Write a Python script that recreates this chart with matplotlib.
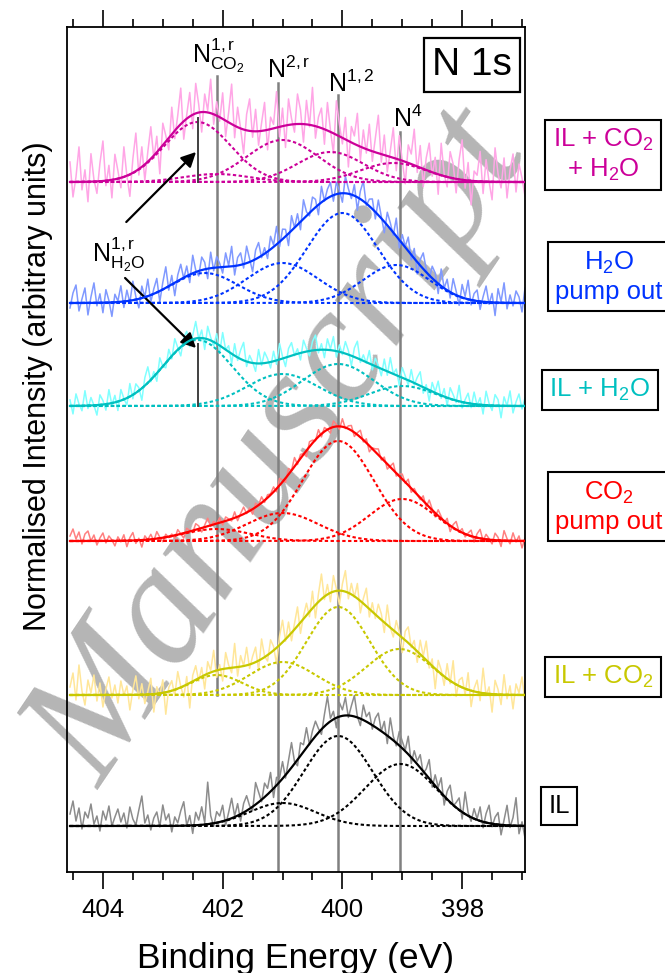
import numpy as np
import matplotlib
matplotlib.use("Agg")
import matplotlib.pyplot as plt

plt.rcParams['font.family'] = ['Liberation Sans', 'DejaVu Sans']
plt.rcParams['mathtext.fontset'] = 'custom'
plt.rcParams['mathtext.rm'] = 'Liberation Sans'
plt.rcParams['mathtext.it'] = 'Liberation Sans:italic'
plt.rcParams['mathtext.default'] = 'regular'

# ---------------- data ----------------
x_start, x_stop, n_raw = 404.55, 396.95, 153

labels = ["IL + CO$_2$\n+ H$_2$O", "H$_2$O\npump out", "IL + H$_2$O",
          "CO$_2$\npump out", "IL + CO$_2$", "IL"]
offsets = [690, 569, 466, 331, 177, 46]
fit_colors = ["#cc0099", "#0033ff", "#00c0c0", "#ff0000", "#c8c800", "#000000"]
raw_colors = ["#ffa6e6", "#8099ff", "#80ffff", "#ff8080", "#ffe699", "#8c8c8c"]

# components: centre (eV), height, FWHM (eV)
mag_centers = [402.1, 402.42, 401.0, 400.2, 399.15]
mag_heights = [8, 60, 42, 30, 19]
mag_fwhm = [1.3, 1.3, 1.4, 1.3, 1.3]

blu_centers = [402.3, 401.0, 400.0, 399.1]
blu_heights = [30, 40, 90, 38]
blu_fwhm = [1.3, 1.4, 1.4, 1.3]

cya_centers = [402.42, 401.0, 400.07, 399.0]
cya_heights = [66, 32, 42, 20]
cya_fwhm = [1.35, 1.4, 1.4, 1.3]

red_centers = [402.1, 401.0, 400.07, 399.0]
red_heights = [12, 28, 100, 42]
red_fwhm = [1.3, 1.4, 1.4, 1.3]

yel_centers = [402.1, 401.0, 400.07, 399.05]
yel_heights = [20, 33, 88, 46]
yel_fwhm = [1.0, 1.3, 1.25, 1.3]

blk_centers = [401.0, 400.07, 399.03]
blk_heights = [23, 90, 62]
blk_fwhm = [1.3, 1.35, 1.4]

# residual noise of the raw traces (read approx. from picture)
noise_mag = [20, -15, 5, 35, -8, 12, -20, 28, 2, -12, 18, 40, -5, 15, -18, 25, 8,
             -10, 30, 0, -22, 14, 38, -6, 20, -16, 10, 32, -3, 16, -25, 22, 6, -12,
             27, -8, 12, 36, -18, 4, 24, -14, 30, 8, -20, 18, 2, 34, -10, 14, -4,
             26, -16, 10, 40, -12, 20, 0, -24, 16, 32, -6, 22, -14, 8, 28, -20, 12,
             4, 36, -10, 18, -22, 26, 6, -8, 30, 14, -18, 24, -2, 38, -12, 10, 20,
             -15, 28, 2, -20, 34, 12, -6, 22, -26, 16, 8, 32, -14, 18, -4, 26, -10,
             14, 38, -8, 20, -16, 6, 30, -12, 24, 0, -22, 18, 10, 36, -6, 22, -18,
             12, 28, -4, 16, -20, 32, 2, -10, 26, 14, -14, 20, 40, -8, 18, -24, 10,
             6, 30, -12, 22, 0, -18, 34, 8, -6, 24, -16, 12, 28, -10, 18, 4, -14]
noise_blu = [-5, 10, 18, -8, 4, 15, -12, 6, 20, -3, 9, -10, 13, 2, -14, 8, 1,
             16, -6, 11, -2, 19, 3, -9, 12, 0, 17, -7, 5, 14, -11, 7, 21, -4,
             9, -13, 6, 15, -1, 10, -8, 18, 2, -5, 13, 7, -10, 16, -3, 11, 4,
             -6, 14, 1, 20, -9, 8, 12, -4, 17, 3, -11, 9, 15, -2, 6, -7, 13,
             2, 18, -5, 10, 7, -12, 15, 0, 11, -8, 19, 4, -3, 13, 8, -10, 16,
             -1, 9, 14, -6, 12, 3, -9, 17, 5, -4, 11, -13, 8, 20, -2, 7, 10,
             -7, 15, 2, -11, 13, 6, -3, 18, -8, 9, 1, 14, -5, 10, -12, 6, 16,
             3, -4, 12, 8, -10, 17, 0, 11, -6, 15, 4, -9, 13, 2, 19, -5, 7,
             11, -8, 5, 16, -2, 9, -13, 14, 1, 20, -6, 8, -3, 12, 6, -9, 15]
noise_cya = [6, -8, 12, 2, -5, 15, -3, 8, 0, -10, 10, 4, -6, 14, -2, 7, -9,
             11, 1, -7, 13, -4, 9, 3, -12, 8, 16, -2, 5, -8, 12, 0, -5, 10,
             -3, 14, 2, -9, 7, 11, -6, 4, 17, -1, 8, -11, 13, 3, -4, 10, -7,
             15, 0, 6, -10, 12, -3, 9, 18, -5, 7, 1, -8, 14, -2, 11, 4, -6,
             10, -4, 16, 2, -9, 8, 13, -1, 5, -7, 12, 3, -5, 9, 15, -3, 6,
             -8, 11, 1, 14, -6, 7, -2, 12, 4, -10, 9, 17, -3, 6, -1, 13, -5,
             8, 2, -7, 11, -4, 15, 0, 6, -9, 10, 3, -5, 12, -2, 7, 14, -6,
             4, -11, 9, 1, 13, -3, 8, -8, 11, 5, -2, 16, -6, 3, 10, -4, 12,
             -1, 7, -9, 14, 2, -5, 11, 6, -12, 9, 0, 15, -7, 4, 12, -3, 8]
noise_red = [5, 12, 2, 9, -3, 7, 10, 0, 6, -4, 3, 8, -2, 5, 1, -5, 4,
             -1, 6, -6, 3, 8, -3, 2, -7, 4, 0, 5, -2, 7, 1, -4, 3, -1,
             2, -3, 5, 0, -5, 4, 1, -2, 6, 3, -4, 2, 8, -1, 3, 0, 5,
             -3, 4, 1, -2, 6, -4, 2, 7, -1, 3, -5, 4, 0, 6, -2, 3, 1,
             5, -3, 7, 2, -4, 6, 0, 9, -2, 4, 1, -6, 5, 3, -1, 7, -3,
             4, 0, -5, 6, 2, -3, 8, -1, 3, 5, -4, 2, 7, -2, 4, -6, 1,
             3, 6, -2, 4, -5, 1, 7, -3, 2, 5, -1, 6, -4, 3, 0, -2, 5,
             -3, 7, 1, -4, 6, 2, -2, 5, -6, 3, 8, -1, 4, -3, 2, 6, -5,
             4, 9, -2, 5, 1, -4, 7, 3, -6, 10, 2, -3, 8, -1, 5, -7, 3]
noise_yel = [8, 22, -5, 30, 4, -10, 15, 2, 20, -6, 12, -12, 6, 18, -3, 10, -8,
             14, 0, 9, -15, 5, 19, -4, 11, -9, 3, 16, -18, 7, -2, 13, -22, 4,
             10, -6, 17, 1, -11, 8, -25, 6, 14, -3, 9, -14, 12, 2, 21, -7, 5,
             -12, 16, 3, -5, 24, -9, 11, 0, 18, -4, 7, 15, -10, 20, 1, -6, 13,
             4, -16, 9, 22, -2, 14, -8, 6, 19, -11, 3, 12, -5, 17, -13, 8, 25,
             -3, 10, -9, 16, 2, -14, 7, 21, -6, 11, -1, 15, -12, 5, 18, -8, 9,
             -4, 13, 6, -10, 20, 0, -7, 12, 3, -15, 9, 16, -2, 8, -11, 14, 1,
             19, -5, 7, -20, 11, 4, -9, 15, -3, 22, -12, 6, 10, -6, 17, -16, 3,
             12, -8, 25, -2, 7, -18, 14, 5, -10, 20, -4, 9, -14, 11, 2, 18, -6]
noise_blk = [12, 25, 5, 18, -3, 14, 8, 22, 2, 10, -5, 15, 6, 20, 0, 9, 17,
             4, 13, -2, 19, 7, 1, 16, 30, 3, 11, -4, 8, 14, -1, 21, 6, 12,
             -6, 9, 3, 15, 24, 0, 10, -8, 13, 5, 18, 2, 42, 8, -3, 11, 6,
             16, -5, 7, 20, 1, 12, -7, 9, 15, 3, -4, 22, 10, -2, 14, 6, 19,
             -9, 8, 4, 17, -3, 11, 25, 2, -6, 13, 7, 20, -1, 9, 15, 4, -5,
             12, 27, 3, 8, -10, 14, 6, 18, -2, 10, 21, 1, -7, 15, 5, 11, -4,
             9, 16, 0, 12, -8, 20, 4, -3, 14, 7, 1, 18, -6, 10, 3, 13, -2,
             6, 19, -5, 11, 2, 15, -9, 8, 17, -1, 5, 12, -7, 22, 3, -4, 10,
             1, 14, -6, 9, 18, -3, 7, 12, -10, 5, 20, -2, 8, 28, -8, 4, -12]

components = [(mag_centers, mag_heights, mag_fwhm), (blu_centers, blu_heights, blu_fwhm),
              (cya_centers, cya_heights, cya_fwhm), (red_centers, red_heights, red_fwhm),
              (yel_centers, yel_heights, yel_fwhm), (blk_centers, blk_heights, blk_fwhm)]
noises = [noise_mag, noise_blu, noise_cya, noise_red, noise_yel, noise_blk]

# reference lines (eV) with top y and bottom y in intensity units
ref_energies = [402.1, 401.07, 400.07, 399.03]
ref_tops = [796, 789, 777, 740]
ref_bottoms = [177, 0, 0, 0]
h2o_energy = 402.42

# ---------------- plotting ----------------
W, H = 665, 973
fig = plt.figure(figsize=(W / 100, H / 100), dpi=100)
ax = fig.add_axes([67 / W, 1 - 872 / H, (525 - 67) / W, (872 - 27) / H])
ax.set_facecolor("none")

# watermark
fig.text(100 / W, 1 - 790 / H, "Manuscript", rotation=56, rotation_mode="anchor",
         ha="left", va="baseline", fontsize=120, family="Liberation Serif", style="italic",
         color="#b5b5b5", zorder=-5)


def gauss(x, c, h, f):
    return h * np.exp(-4 * np.log(2) * (x - c) ** 2 / f ** 2)


xr = np.linspace(x_start, x_stop, n_raw)
xf = np.linspace(x_start, x_stop, 600)

for (cs, hs, fs), off, fc, rc, nz in zip(components, offsets, fit_colors, raw_colors, noises):
    env_raw = np.zeros_like(xr)
    env = np.zeros_like(xf)
    for c, h, f in zip(cs, hs, fs):
        comp = gauss(xf, c, h, f)
        env += comp
        env_raw += gauss(xr, c, h, f)
        ax.plot(xf, comp + off, color=fc, lw=1.5, ls=(0, (1.6, 1.2)), zorder=3)
    ax.plot(xr, env_raw + np.array(nz) + off, color=rc, lw=1.1, zorder=2)
    ax.plot(xf, env + off, color=fc, lw=1.6, zorder=4)

for e, t, b in zip(ref_energies, ref_tops, ref_bottoms):
    ax.plot([e, e], [b, t], color="#808080", lw=1.8, zorder=1.5)

ax.plot([h2o_energy, h2o_energy], [690, 754], color="#404040", lw=1.4, zorder=5)
ax.plot([h2o_energy, h2o_energy], [466, 528], color="#404040", lw=1.4, zorder=5)

# peak labels
fs_lab = 18
ax.text(402.51, 809, r"N$^{1,r}_{CO_2}$", fontsize=fs_lab, ha="left", va="baseline")
ax.text(401.26, 794, r"N$^{2,r}$", fontsize=fs_lab, ha="left", va="baseline")
ax.text(400.245, 780, r"N$^{1,2}$", fontsize=fs_lab, ha="left", va="baseline")
ax.text(399.16, 745, r"N$^{4}$", fontsize=fs_lab, ha="left", va="baseline")
ax.text(404.19, 610, r"N$^{1,r}_{H_2O}$", fontsize=fs_lab, ha="left", va="baseline")

arrow_kw = dict(arrowstyle="-|>", color="black", lw=1.6, mutation_scale=22, shrinkA=0, shrinkB=0)
ax.annotate("", xy=(402.445, 720), xytext=(403.61, 650), arrowprops=arrow_kw)
ax.annotate("", xy=(402.445, 524), xytext=(403.63, 594), arrowprops=arrow_kw)

# N 1s box
ax.text(472 / W, 1 - 65 / H, "N 1s", transform=fig.transFigure, fontsize=28,
        ha="center", va="center",
        bbox=dict(boxstyle="square,pad=0.22", fc="white", ec="black", lw=1.6))

# sample labels
label_pos = [(603, 155), (609, 277), (600, 390), (609, 507), (603, 677), (559, 806)]
for lab, (px, py), fc in zip(labels, label_pos, fit_colors):
    fig.text(px / W, 1 - py / H, lab, fontsize=18.5, color=fc, ha="center", va="center",
             multialignment="center",
             bbox=dict(boxstyle="square,pad=0.28", fc="white", ec="black", lw=1.5))

ax.set_xlim(404.6, 396.95)
ax.set_ylim(0, 845)
ax.set_yticks([])
ax.set_xticks([404, 402, 400, 398])
ax.set_xticks(np.arange(397, 404.6, 0.5), minor=True)
ax.tick_params(axis="x", which="major", direction="out", length=12, width=1.2,
               top=True, labelsize=18.5, pad=7)
ax.tick_params(axis="x", which="minor", direction="out", length=6, width=1.2, top=True)
for s in ax.spines.values():
    s.set_linewidth(1.3)

ax.set_xlabel("Binding Energy (eV)", fontsize=25.5, labelpad=14)
fig.text(38 / W, 1 - 386 / H, "Normalised Intensity (arbitrary units)", rotation=90,
         fontsize=22, ha="center", va="center")

fig.savefig("out.png", dpi=100)
